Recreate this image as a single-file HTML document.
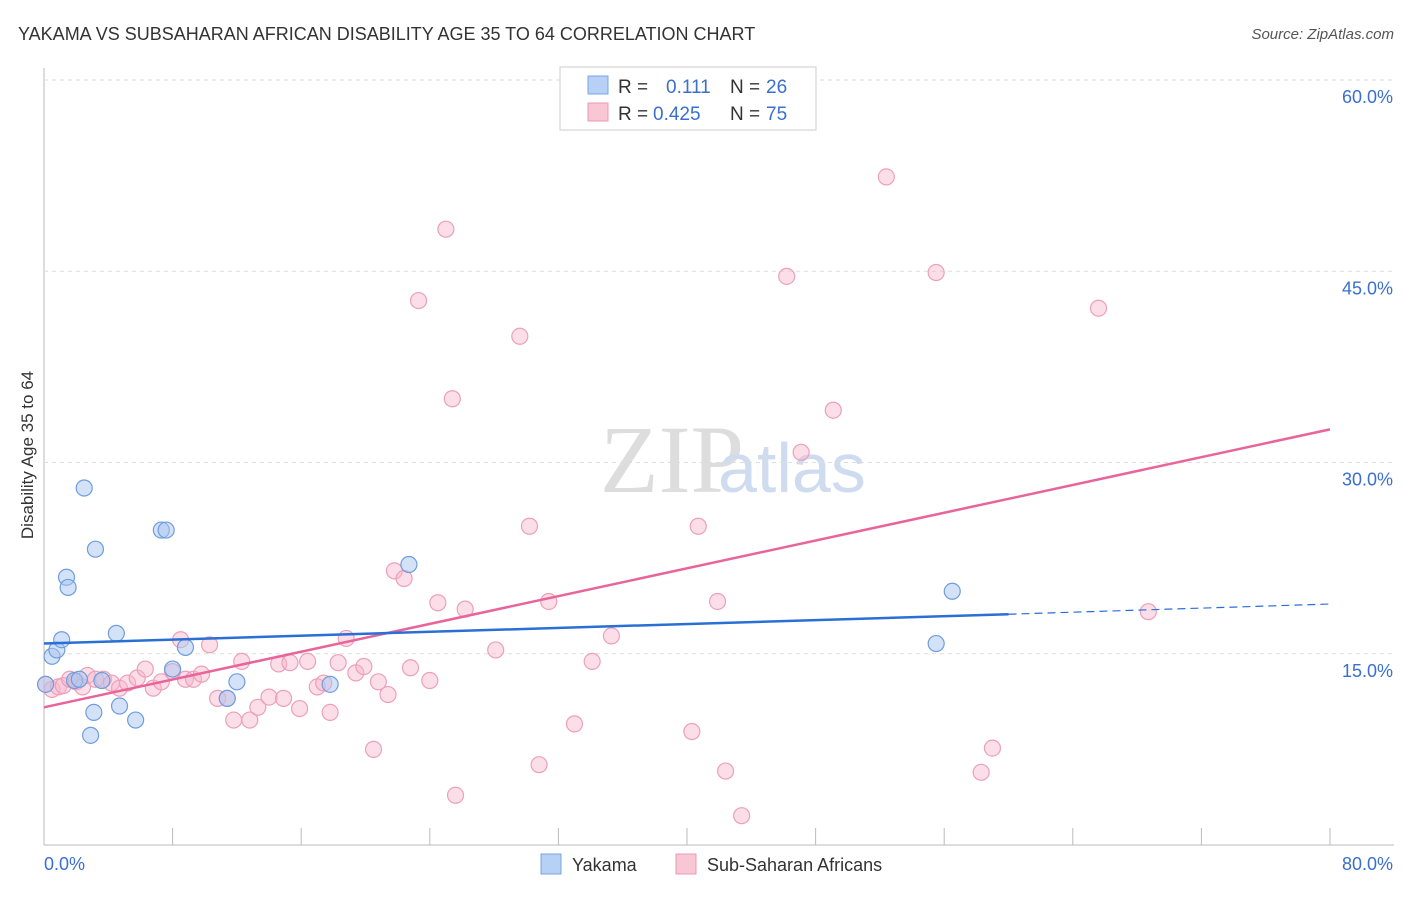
<!DOCTYPE html>
<html><head><meta charset="utf-8"><style>
body{margin:0;background:#fff;font-family:"Liberation Sans",sans-serif}
</style></head><body>
<svg id="c" width="1406" height="892" xmlns="http://www.w3.org/2000/svg">
<text x="18" y="40" font-size="18" fill="#333">YAKAMA VS SUBSAHARAN AFRICAN DISABILITY AGE 35 TO 64 CORRELATION CHART</text>
<text x="1394" y="39" font-size="15" fill="#555" text-anchor="end" font-style="italic">Source: ZipAtlas.com</text>
<text x="600" y="492" font-size="96" fill="#ddd" font-family="Liberation Serif">ZIP</text>
<text x="718" y="492" font-size="70" fill="#cfdcef">atlas</text>
<text transform="translate(33,455) rotate(-90)" font-size="17" fill="#333" text-anchor="middle">Disability Age 35 to 64</text>
<g id="grid"></g><g id="marks"></g>
<g>
<rect x="560" y="67" width="256" height="63" fill="#fff" stroke="#ccc"/>
<rect x="588" y="76" width="20" height="18" fill="#b7d0f5" stroke="#7aa5e0"/>
<rect x="588" y="103" width="20" height="18" fill="#f9c6d6" stroke="#ec98b2"/>
<text x="618" y="93" font-size="19" fill="#333">R =</text><text x="666" y="93" font-size="19" fill="#3a6fd0">0.111</text>
<text x="730" y="93" font-size="19" fill="#333">N =</text><text x="766" y="93" font-size="19" fill="#3a6fd0">26</text>
<text x="618" y="120" font-size="19" fill="#333">R =</text><text x="653" y="120" font-size="19" fill="#3a6fd0">0.425</text>
<text x="730" y="120" font-size="19" fill="#333">N =</text><text x="766" y="120" font-size="19" fill="#3a6fd0">75</text>
</g>
<g>
<rect x="541" y="854" width="20" height="20" fill="#b7d0f5" stroke="#7aa5e0"/>
<text x="572" y="871" font-size="18" fill="#333">Yakama</text>
<rect x="676" y="854" width="20" height="20" fill="#f9c6d6" stroke="#ec98b2"/>
<text x="707" y="871" font-size="18" fill="#333">Sub-Saharan Africans</text>
</g>
</svg>
<script>
const xTicks=[0,8,16,24,32,40,48,56,64,72,80];
const yTicks=[15,30,45,60];
const yakamaX=[0.1,0.5,0.8,1.1,1.4,1.5,2.5,3.2,1.9,2.2,3.6,3.1,2.9,4.5,4.7,5.7,7.3,7.6,8.8,8,11.4,12,17.8,22.7,56.5,55.5];
const yakamaY=[12.6,14.8,15.3,16.1,21,20.2,28,23.2,12.9,13,12.9,10.4,8.6,16.6,10.9,9.8,24.7,24.7,15.5,13.8,11.5,12.8,12.6,22,19.9,15.8];
const ssaX=[0.1,0.5,0.9,1.2,1.6,2,2.4,2.7,3.2,3.7,4.2,4.7,5.2,5.8,6.3,6.8,7.3,8,8.5,8.8,9.3,9.8,10.3,10.8,11.4,11.8,12.3,12.8,13.3,14,14.6,14.9,15.3,15.9,16.4,17.0,17.4,17.8,18.3,18.8,19.4,19.9,20.5,20.8,21.4,21.8,22.4,22.8,23.3,24,24.5,25,25.4,25.6,26.2,28.1,29.6,30.2,30.8,31.4,33,34.1,35.3,40.3,40.7,41.9,42.4,43.4,46.2,47.1,49.1,52.4,55.5,58.3,59,65.6,68.7];
const ssaY=[12.6,12.2,12.4,12.5,13,12.8,12.4,13.3,13,13,12.7,12.3,12.7,13.1,13.8,12.3,12.8,13.6,16.1,13,13,13.4,15.7,11.5,11.5,9.8,14.4,9.8,10.8,11.6,14.2,11.5,14.3,10.7,14.4,12.4,12.7,10.4,14.3,16.2,13.5,14,7.5,12.8,11.8,21.5,20.9,13.9,42.7,12.9,19,48.3,35,3.9,18.5,15.3,39.9,25,6.3,19.1,9.5,14.4,16.4,8.9,25,19.1,5.8,2.3,44.6,30.8,34.1,52.4,44.9,5.7,7.6,42.1,18.3];
const blueLine=[[0,15.8],[60,18.1],[80,18.9]];
const pinkLine=[[0,10.8],[80,32.6]];
const X=v=>44+v*16.075, Y=v=>845-v*12.75;
const NS='http://www.w3.org/2000/svg';
function mk(t,a,p){const e=document.createElementNS(NS,t);for(const k in a)e.setAttribute(k,a[k]);p.appendChild(e);return e;}
const g=document.getElementById('grid'), m=document.getElementById('marks');
let ax=mk('line',{x1:44,y1:68,x2:44,y2:845,stroke:'#bbb'},g);


let bx=mk('line',{x1:44,y1:845,x2:1394,y2:845,stroke:'#bbb'},g);


yTicks.forEach(v=>{const l=mk('line',{x1:44,y1:Y(v),x2:1394,y2:Y(v),stroke:'#ddd','stroke-dasharray':'4,4'},g);


const t=mk('text',{x:1393,y:Y(v)+23,'font-size':18,fill:'#3a6fd0','text-anchor':'end'},g);t.textContent=v.toFixed(1)+'%';

});
xTicks.forEach(v=>{const l=mk('line',{x1:X(v),y1:828,x2:X(v),y2:845,stroke:'#bbb'},g);

});
[[0,'0.0%','start'],[80,'80.0%','end']].forEach(([v,s,a])=>{const t=mk('text',{x:a=='start'?X(v):1393,y:870,'font-size':18,fill:'#3a6fd0','text-anchor':a},g);t.textContent=s;

});
ssaX.forEach((v,i)=>{const c=mk('circle',{cx:X(v),cy:Y(ssaY[i]),r:8,fill:'rgba(247,182,203,0.45)',stroke:'#eca0b9','stroke-width':1.2},m);

});
yakamaX.forEach((v,i)=>{const c=mk('circle',{cx:X(v),cy:Y(yakamaY[i]),r:8,fill:'rgba(170,198,240,0.5)',stroke:'#6f9ddd','stroke-width':1.2},m);

});
let pl=mk('line',{x1:X(pinkLine[0][0]),y1:Y(pinkLine[0][1]),x2:X(pinkLine[1][0]),y2:Y(pinkLine[1][1]),stroke:'#e8649a','stroke-width':2.5},m);


let b1=mk('line',{x1:X(blueLine[0][0]),y1:Y(blueLine[0][1]),x2:X(blueLine[1][0]),y2:Y(blueLine[1][1]),stroke:'#2a6fd6','stroke-width':2.5},m);


let b2=mk('line',{x1:X(blueLine[1][0]),y1:Y(blueLine[1][1]),x2:X(blueLine[2][0]),y2:Y(blueLine[2][1]),stroke:'#2a6fd6','stroke-width':1.2,'stroke-dasharray':'8,5'},m);


</script>
</body></html>
